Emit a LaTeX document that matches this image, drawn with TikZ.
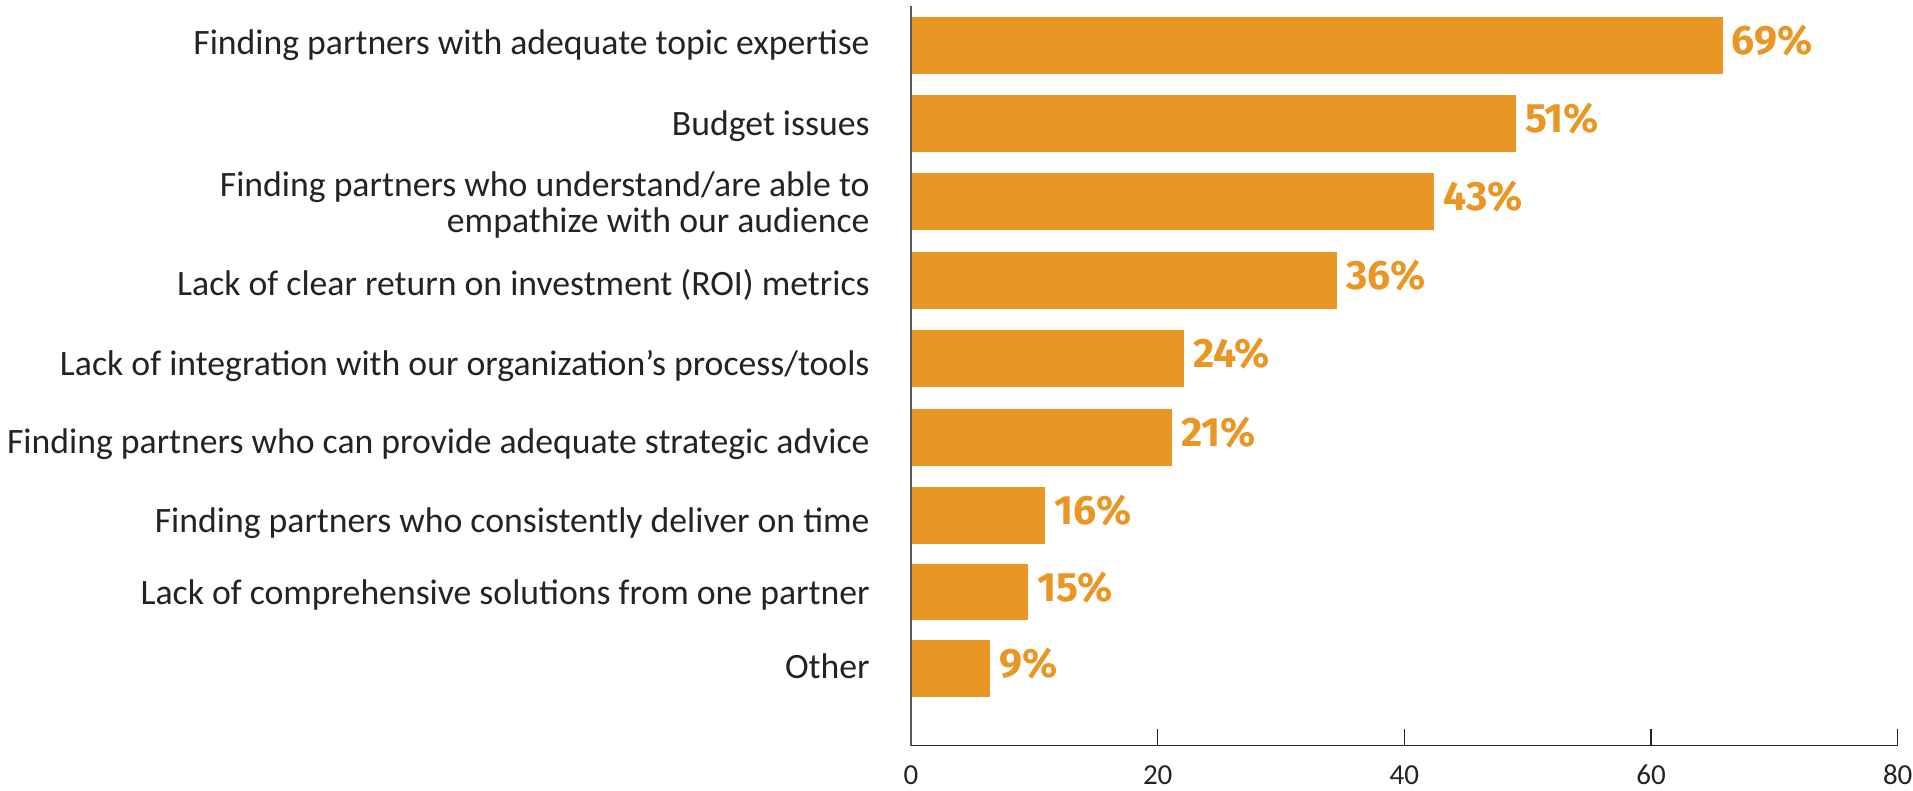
\documentclass[tikz,border=0pt]{standalone}
\usepackage{fontspec}
\setmainfont{Carlito}
\newfontfamily\pctfont{Fira Sans}
\definecolor{barorange}{RGB}{233,150,37}
\definecolor{axisgray}{RGB}{90,90,90}
\definecolor{textgray}{RGB}{35,35,35}

\begin{document}
\begin{tikzpicture}[x=0.5pt,y=-0.5pt,
		bar/.style={fill=barorange},
		reason/.style={anchor=base east,inner sep=0pt,text=textgray,align=right,font=\fontsize{17.85}{18.1}\selectfont},
		pct/.style={anchor=west,inner xsep=4.5pt,inner ysep=0pt,text=barorange,font=\pctfont\bfseries\fontsize{20.5}{21}\selectfont},
		ticklbl/.style={anchor=base,inner sep=0pt,text=textgray,font=\fontsize{14.5}{15}\selectfont}]
	\useasboundingbox (0,0) rectangle (1913,791);

		\fill[bar] (911,17) rectangle (1722.5,73.7);
		\fill[bar] (911,95) rectangle (1515.8,151.7);
		\fill[bar] (911,173) rectangle (1434.2,229.7);
		\fill[bar] (911,252) rectangle (1336.6,308.7);
		\fill[bar] (911,330) rectangle (1183.7,386.7);
		\fill[bar] (911,409.3) rectangle (1171.7,465.7);
		\fill[bar] (911,487.3) rectangle (1044.7,543.7);
		\fill[bar] (911,564) rectangle (1028.3,620.3);
		\fill[bar] (911,640) rectangle (990.3,696.7);

		\node[pct] (p69) at (1722.5,40.3) {69\%};
		\node[pct] (p51) at (1515.8,118.3) {51\%};
		\node[pct] (p43) at (1434.2,196.3) {43\%};
		\node[pct] (p36) at (1336.6,275.3) {36\%};
		\node[pct] (p24) at (1183.7,353.3) {24\%};
		\node[pct] (p21) at (1171.7,432.5) {21\%};
		\node[pct] (p16) at (1044.7,510.5) {16\%};
		\node[pct] (p15) at (1028.3,587.2) {15\%};
		\node[pct] (p9) at (990.3,663.3) {9\%};

		\node[reason] (expertise) at (870,54.5) {Finding partners with adequate topic expertise};
		\node[reason] (budget) at (870,135.2) {Budget issues};
		\node[reason] (empathy) at (870,233) {Finding partners who understand/are able to\\empathize with our audience};
		\node[reason] (roi) at (870,295.2) {Lack of clear return on investment (ROI) metrics};
		\node[reason] (integration) at (870,375.9) {Lack of integration with our organization’s process/tools};
		\node[reason] (advice) at (870,453) {Finding partners who can provide adequate strategic advice};
		\node[reason] (ontime) at (870,532.3) {Finding partners who consistently deliver on time};
		\node[reason] (onepartner) at (870,604.4) {Lack of comprehensive solutions from one partner};
		\node[reason] (other) at (870,678.6) {Other};

		\draw[axisgray,line width=1pt] (911,6) -- (911,745.5);
		\draw[textgray,line width=0.75pt] (911,745.5) -- (1898,745.5);

		\draw[textgray,line width=0.75pt] (1157.7,729) -- (1157.7,745.5);
		\draw[textgray,line width=0.75pt] (1404.3,729) -- (1404.3,745.5);
		\draw[textgray,line width=0.75pt] (1651,729) -- (1651,745.5);
		\draw[textgray,line width=0.75pt] (1897.7,729) -- (1897.7,745.5);

		\node[ticklbl] (t0) at (911,784.5) {0};
		\node[ticklbl] (t20) at (1157.7,784.5) {20};
		\node[ticklbl] (t40) at (1404.3,784.5) {40};
		\node[ticklbl] (t60) at (1651,784.5) {60};
		\node[ticklbl] (t80) at (1897.7,784.5) {80};

	\end{tikzpicture}
\end{document}
